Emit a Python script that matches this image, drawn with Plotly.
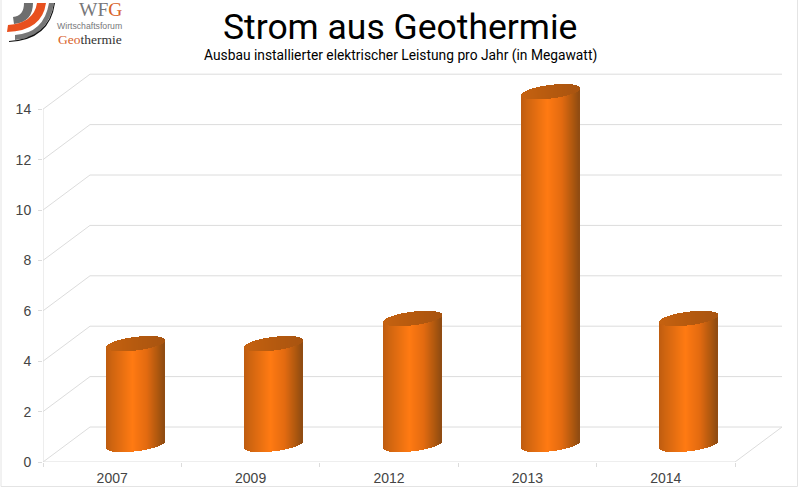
import numpy as np
import plotly.graph_objects as go

# ---- data ----
years = ["2007", "2009", "2012", "2013", "2014"]
megawatt = [4, 4, 5, 14, 5]
y_ticks = [0, 2, 4, 6, 8, 10, 12, 14]

TITLE = "Strom aus Geothermie"
SUBTITLE = "Ausbau installierter elektrischer Leistung pro Jahr (in Megawatt)"

# ---- geometry of the figure (pixels) ----
W_FIG, H_FIG = 800, 488
L, R, T, B = 43, 783, 70, 462
PX_CAT = 138.4            # pixels per category
PX_VAL = 25.2             # pixels per megawatt
DEPTH_X, DEPTH_Y = 47, 35 # perspective offset of the back wall
CYL_W, CYL_H, CYL_SLOPE = 29.2, 6.8, 0.12

x_range = [-0.5, -0.5 + (R - L) / PX_CAT]
y_range = [0, (B - T) / PX_VAL]
dx = DEPTH_X / PX_CAT
dy = DEPTH_Y / PX_VAL
n = len(years)
GRID = "#dcdcdc"


def xp(px):
    return (px - L) / (R - L)


def yp(py):
    return (B - py) / (B - T)


def path(d):
    """Turn 'M x,y L x,y ...' written in pixels into paper coordinates."""
    out = []
    for tok in d.split():
        if "," in tok:
            a, b = tok.split(",")
            out.append(f"{xp(float(a)):.5f},{yp(float(b)):.5f}")
        else:
            out.append(tok)
    return " ".join(out)


def lerp_color(t, stops):
    pos = [s[0] for s in stops]
    c = [np.interp(t, pos, [s[1][k] for s in stops]) for k in range(3)]
    return f"rgb({c[0]:.0f},{c[1]:.0f},{c[2]:.0f})"


BODY = [(0, (190, 92, 16)), (0.1, (206, 100, 16)), (0.45, (255, 122, 18)),
        (0.7, (226, 106, 16)), (0.9, (170, 86, 15)), (1, (140, 74, 18))]
CAP = [(0, (198, 98, 16)), (0.5, (182, 90, 15)), (1, (168, 84, 16))]

fig = go.Figure()

u = np.arange(-CYL_W + 0.5, CYL_W, 1.0)
ts = (u + CYL_W) / (2 * CYL_W)
lift = CYL_SLOPE * u / PX_VAL
arc = CYL_H * np.sqrt(1 - (u / CYL_W) ** 2) / PX_VAL
for i, v in enumerate(megawatt):
    xs = i + dx / 2 + u / PX_CAT
    b0 = dy / 2 + lift - arc
    b1 = dy / 2 + v + lift - arc
    cap_top = dy / 2 + v + lift + arc
    fig.add_bar(x=xs, y=b1 - b0, base=b0, width=1.4 / PX_CAT,
                marker=dict(color=[lerp_color(t, BODY) for t in ts], line_width=0),
                hoverinfo="skip", showlegend=False)
    fig.add_bar(x=xs, y=cap_top - b1, base=b1, width=1.4 / PX_CAT,
                marker=dict(color=[lerp_color(t, CAP) for t in ts], line_width=0),
                hoverinfo="skip", showlegend=False)

shapes = []


def seg(x0, y0, x1, y1):
    shapes.append(dict(type="line", xref="x", yref="y", x0=x0, y0=y0, x1=x1, y1=y1,
                       layer="below", line=dict(color=GRID, width=1)))


left, right = -0.5, n - 0.5
for t in y_ticks:
    seg(left, t, left + dx, t + dy)
    seg(left + dx, t + dy, right + dx, t + dy)
seg(left, y_ticks[0], left, y_ticks[-1])
seg(left, 0, right, 0)
seg(right, 0, right + dx, dy)

# outer frame of the picture
shapes.append(dict(type="rect", xref="paper", yref="paper", x0=xp(1), y0=yp(486.5), x1=xp(797.5), y1=yp(-2),
                   line=dict(color="#e4e4e4", width=1), fillcolor="rgba(0,0,0,0)", layer="below"))

# logo
for d, col in [
    ("M 24,3 L 33,3 Q 33,22 14,24 L 13,17 Q 24,16 24,3 Z", "#6e6e6e"),
    ("M 37,3 L 46,3 Q 42,31 7,32 L 8,25 Q 34,23 37,3 Z", "#e8501e"),
    ("M 49,3 L 54,3 Q 48,37 15,40 L 15,35 Q 44,33 49,3 Z", "#777777"),
    ("M 54,3 L 55,3 Q 50,40 9,42 L 9,41 Q 49,38 54,3 Z", "#111111"),
]:
    shapes.append(dict(type="path", xref="paper", yref="paper", path=path(d),
                       fillcolor=col, line_width=0, layer="above"))


def text(px, py, s, size, color="#000000", family="Liberation Sans", anchor="center"):
    return dict(xref="paper", yref="paper", x=xp(px), y=yp(py), text=s, showarrow=False,
                xanchor=anchor, yanchor="middle", align="center", borderpad=0,
                font=dict(family=family, size=size, color=color))


annotations = [
    text(400, 27, TITLE, 35.5, family="Roboto"),
    text(400, 56, SUBTITLE, 13.8, family="Roboto"),
    text(123, 10, 'WF<span style="color:#d8632a">G</span>', 19.5, "#77777a", "Liberation Serif", "right"),
    text(123, 26.5, "Wirtschaftsforum", 8.7, "#77777a", "Liberation Sans", "right"),
    text(123, 39.5, '<span style="color:#d8632a">Geo</span>thermie', 13.5, "#333333", "Liberation Serif", "right"),
]

TICK_FONT = dict(family="Liberation Sans", size=14, color="#444444")
fig.update_layout(
    width=W_FIG, height=H_FIG, autosize=False,
    margin=dict(l=L, r=W_FIG - R, t=T, b=H_FIG - B, pad=0),
    paper_bgcolor="white", plot_bgcolor="white",
    barmode="overlay", showlegend=False, bargap=0,
    shapes=shapes, annotations=annotations,
    xaxis=dict(range=x_range, tickmode="array", tickvals=list(range(n)), ticktext=years,
               ticks="", showgrid=False, zeroline=False, showline=False, automargin=False,
               ticklabelstandoff=6, tickfont=TICK_FONT,
               minor=dict(tickmode="array", tickvals=[k - 0.5 for k in range(n + 1)],
                          ticks="outside", ticklen=4, tickcolor=GRID, showgrid=False)),
    yaxis=dict(range=y_range, tickmode="array", tickvals=y_ticks, ticks="outside", ticklen=4,
               tickcolor=GRID, showgrid=False, zeroline=False, showline=False, automargin=False,
               ticklabelstandoff=4, tickfont=TICK_FONT),
)

fig.write_html("out.html", config=dict(displayModeBar=False),
               post_script="document.body.style.margin='0';document.documentElement.style.overflow='hidden';")
